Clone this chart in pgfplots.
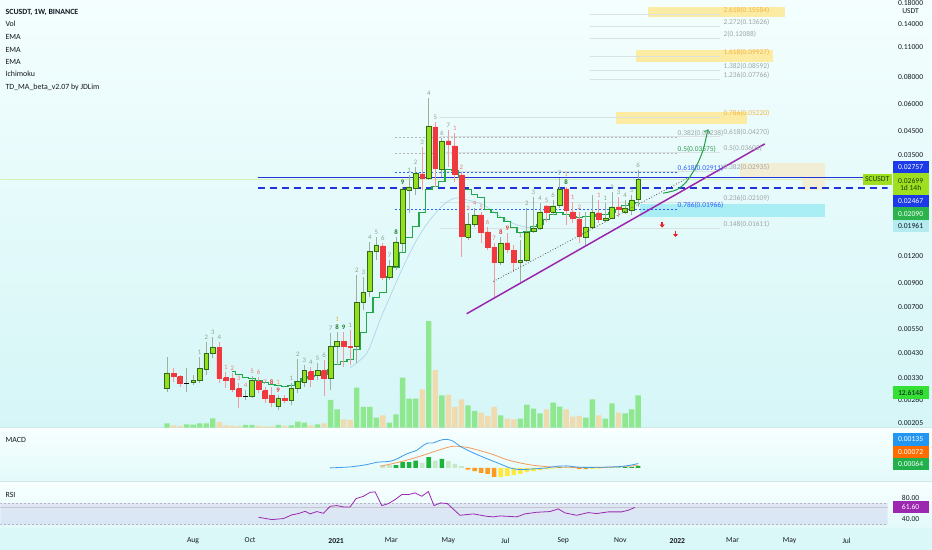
\documentclass[border=0pt]{standalone}
\usepackage{fontspec}
\setmainfont{Carlito}
\usepackage{pgfplots}
\usepackage{pgfplotstable}
\pgfplotsset{compat=1.18}
\usetikzlibrary{arrows.meta}

\definecolor{bgtop}{HTML}{F4FEFE}
\definecolor{bgbot}{HTML}{D5F6F7}
\definecolor{panetop}{HTML}{F8FFFF}
\definecolor{panebot}{HTML}{E3FAFA}
\definecolor{timebg}{HTML}{DAF8F8}
\definecolor{sepc}{HTML}{D2E8E8}
\definecolor{txt}{HTML}{131722}
\definecolor{candleup}{HTML}{93DE1D}
\definecolor{candleedge}{HTML}{2F6B1A}
\definecolor{candledn}{HTML}{F0383F}
\definecolor{wickup}{HTML}{9DB09D}
\definecolor{wickdn}{HTML}{F29A9E}
\definecolor{volup}{HTML}{8FE88F}
\definecolor{voldn}{HTML}{F0DBAE}
\definecolor{stepg}{HTML}{22A84A}
\definecolor{emab}{HTML}{AED6E8}
\definecolor{lvlblue}{HTML}{1F35D9}
\definecolor{trend}{HTML}{9B27AF}
\definecolor{fibgray}{HTML}{A0A6A6}
\definecolor{fibline}{HTML}{D9E1E1}
\definecolor{fibyel}{HTML}{F5B445}
\definecolor{fibgreen}{HTML}{2E9E50}
\definecolor{fibblue}{HTML}{2962FF}
\definecolor{yelbox}{HTML}{FBEBA3}
\definecolor{beigebox}{HTML}{F2EDD5}
\definecolor{cyanbox}{HTML}{A9EEF4}
\definecolor{lastp}{HTML}{CFEFA8}
\definecolor{arrowg}{HTML}{22A046}
\definecolor{arrowr}{HTML}{E8202A}
\definecolor{tdone}{HTML}{8BA58B}
\definecolor{tdred}{HTML}{EF7B7B}
\definecolor{tddkg}{HTML}{1B7F2A}
\definecolor{tddkr}{HTML}{E53935}
\definecolor{tdor}{HTML}{F2A93B}
\definecolor{macdb}{HTML}{3D9BE9}
\definecolor{macdo}{HTML}{F39B5C}
\definecolor{histdk}{HTML}{1DB13E}
\definecolor{histpl}{HTML}{C8E6C8}
\definecolor{histor}{HTML}{FF9A1F}
\definecolor{histye}{HTML}{FFE93D}
\definecolor{rsiv}{HTML}{7E57C2}
\definecolor{rsiline}{HTML}{9C27B0}
\definecolor{rsidash}{HTML}{B5B5C5}
\definecolor{boxblue}{HTML}{1C3AE8}
\definecolor{boxlime}{HTML}{9EE01F}
\definecolor{boxgreen}{HTML}{2CB34B}
\definecolor{boxcyan}{HTML}{B3EBF0}
\definecolor{boxvol}{HTML}{33E033}
\definecolor{boxmb}{HTML}{2196F3}
\definecolor{boxmo}{HTML}{FF6D00}
\definecolor{boxmg}{HTML}{21B04B}
\definecolor{boxrsi}{HTML}{9C27B0}
\definecolor{limetxt}{HTML}{1B3D0A}

\newcommand\lab{\fontsize{7.6}{8}\selectfont}
\newcommand\fibf{\fontsize{7.4}{8}\selectfont}
\newcommand\tdf{\fontsize{6.8}{7}\selectfont}
\newcommand\legf{\fontsize{7.9}{9}\selectfont}

% weekly candles: index, open, high, low, close, direction, volume
\pgfplotstableread{
i O H L C d V
0 0.002937 0.004122 0.002845 0.003443 1 1.69
1 0.003443 0.003669 0.003163 0.003335 -1 0.91
2 0.003335 0.003407 0.003000 0.003097 -1 0.65
3 0.003100 0.003669 0.002845 0.003100 0 1.30
4 0.003130 0.003407 0.003064 0.003197 1 1.17
5 0.003197 0.004122 0.003130 0.003630 1 1.69
6 0.003592 0.004833 0.003407 0.004255 1 1.69
7 0.004255 0.005095 0.004078 0.004535 1 3.65
8 0.004535 0.004833 0.003130 0.003265 -1 2.21
9 0.003300 0.003517 0.002968 0.003197 -1 0.91
10 0.003265 0.003480 0.002845 0.002906 -1 0.78
11 0.002937 0.003130 0.002401 0.002698 -1 0.65
12 0.002698 0.002906 0.002614 0.002698 0 1.04
13 0.002698 0.003371 0.002670 0.003197 1 1.04
14 0.003163 0.003335 0.002815 0.002906 -1 0.65
15 0.002875 0.003000 0.002532 0.002642 -1 0.52
16 0.002727 0.003000 0.002427 0.002532 -1 0.52
17 0.002427 0.002756 0.002351 0.002642 1 1.04
18 0.002642 0.002756 0.002532 0.002586 -1 0.65
19 0.002586 0.003130 0.002479 0.002937 1 0.91
20 0.002937 0.004036 0.002815 0.003163 1 2.34
21 0.003130 0.003787 0.003000 0.003554 1 1.95
22 0.003517 0.003708 0.003000 0.003231 -1 0.91
23 0.003371 0.003869 0.003231 0.003554 1 1.30
24 0.003554 0.003993 0.002727 0.003265 -1 1.69
25 0.003265 0.005316 0.002906 0.004583 1 10.81
26 0.004583 0.005373 0.003787 0.004833 1 7.16
27 0.004833 0.005373 0.003708 0.004583 -1 3.26
28 0.004583 0.005487 0.003787 0.004535 -1 2.99
29 0.004583 0.009826 0.003869 0.007304 1 15.63
30 0.007304 0.009620 0.006782 0.008120 1 8.07
31 0.008207 0.013937 0.007783 0.012537 1 8.07
32 0.012537 0.014697 0.011518 0.013501 1 3.91
33 0.013359 0.013791 0.009319 0.009519 -1 4.82
34 0.009519 0.011518 0.009319 0.010696 1 1.95
35 0.010696 0.014697 0.010361 0.013937 1 5.21
36 0.013791 0.024958 0.012537 0.024435 1 19.53
37 0.024177 0.028342 0.018949 0.024958 1 11.33
38 0.024694 0.030848 0.022931 0.028949 1 11.33
39 0.028644 0.038130 0.024177 0.027455 -1 14.97
40 0.027455 0.064076 0.026880 0.047629 1 41.67
41 0.047127 0.049690 0.024958 0.030523 -1 22.53
42 0.030201 0.041943 0.027748 0.040631 1 12.63
43 0.040631 0.045653 0.030848 0.039361 -1 12.76
44 0.038536 0.044225 0.026315 0.028644 -1 8.07
45 0.028342 0.029257 0.011890 0.014853 -1 11.07
46 0.014697 0.018949 0.014237 0.016866 1 8.72
47 0.016866 0.019981 0.016338 0.018552 1 6.51
48 0.018552 0.019151 0.013791 0.015496 -1 5.86
49 0.015496 0.016338 0.012805 0.013079 -1 4.56
50 0.013079 0.013791 0.007783 0.011158 -1 8.07
51 0.011158 0.014697 0.010925 0.013791 1 4.82
52 0.013791 0.015333 0.012405 0.012941 -1 3.52
53 0.012670 0.013501 0.010143 0.011158 -1 3.26
54 0.011158 0.014237 0.009124 0.011397 1 3.52
55 0.011397 0.019981 0.011277 0.015496 1 8.98
56 0.015661 0.022450 0.015333 0.016166 1 7.42
57 0.016166 0.021068 0.015827 0.019151 1 5.60
58 0.020409 0.020627 0.017227 0.019151 -1 7.16
59 0.019151 0.021748 0.018552 0.020409 1 9.77
60 0.020627 0.027455 0.019981 0.024435 1 8.20
61 0.024435 0.024958 0.016688 0.019562 -1 7.16
62 0.019151 0.021292 0.017045 0.017972 -1 4.30
63 0.017782 0.019151 0.013791 0.014853 -1 4.56
64 0.014697 0.019151 0.013218 0.016338 1 3.91
65 0.016338 0.022931 0.016166 0.019151 1 11.07
66 0.018949 0.021748 0.017045 0.017782 -1 4.82
67 0.017595 0.021068 0.017227 0.017972 1 3.52
68 0.017972 0.023671 0.017782 0.020193 1 9.51
69 0.020193 0.022450 0.018163 0.019770 -1 5.86
70 0.019151 0.021748 0.018750 0.019981 1 5.60
71 0.019562 0.022931 0.018552 0.021748 1 7.16
72 0.021980 0.029883 0.020193 0.026990 1 12.61
}\candles

% green step line (TD_MA)
\pgfplotstableread{
i y
10 0.003517
11 0.003407
12 0.003300
13 0.003265
14 0.003197
15 0.003130
16 0.003064
17 0.003032
18 0.003000
19 0.003032
20 0.003163
21 0.003265
22 0.003335
23 0.003371
24 0.003407
25 0.003592
26 0.003787
27 0.003910
28 0.003993
29 0.004440
30 0.005316
31 0.006570
32 0.007701
33 0.008120
34 0.009620
35 0.010583
36 0.012405
37 0.014542
38 0.016338
39 0.018949
40 0.024177
41 0.024958
42 0.026315
43 0.029883
44 0.029568
45 0.027455
46 0.024177
47 0.022931
48 0.022214
49 0.019562
50 0.018949
51 0.017972
52 0.017227
53 0.016166
54 0.015333
55 0.015496
56 0.016338
57 0.016688
58 0.017595
59 0.018552
60 0.018949
61 0.018552
62 0.018163
63 0.017972
64 0.018163
65 0.018163
66 0.018552
67 0.018552
68 0.018949
69 0.019562
70 0.020409
71 0.020849
72 0.021068
}\steps

% TD sequential counts above the bars: index, high, text, class
\pgfplotstableread{
i y t c
5 0.004122 1 1
6 0.004833 2 1
7 0.005095 3 1
8 0.004833 4 1
9 0.003517 1 2
10 0.003480 2 2
11 0.003130 3 2
12 0.002906 4 2
13 0.003371 5 2
14 0.003335 6 2
15 0.003000 7 2
16 0.003000 8 4
17 0.002756 9 4
19 0.003130 1 1
20 0.004036 2 1
21 0.003787 3 1
22 0.003708 4 1
23 0.003869 5 1
24 0.003993 6 1
25 0.005316 7 1
26 0.005373 8 3
27 0.005373 9 3
28 0.005487 1 1
29 0.009826 2 1
30 0.009620 3 1
31 0.013937 4 1
32 0.014697 5 1
33 0.013791 6 1
34 0.011518 7 1
35 0.014697 8 3
36 0.024958 9 3
37 0.028342 1 1
38 0.030848 2 1
39 0.038130 3 1
40 0.064076 4 1
41 0.049690 5 1
42 0.041943 6 1
43 0.045653 7 1
44 0.044225 1 2
45 0.029257 2 2
46 0.018949 3 2
47 0.019981 4 2
48 0.019151 5 2
49 0.016338 6 2
50 0.013791 7 2
51 0.014697 8 4
52 0.015333 9 4
54 0.014237 1 1
55 0.019981 2 1
56 0.022450 3 1
57 0.021068 4 1
58 0.020627 5 1
59 0.021748 6 1
60 0.027455 7 1
61 0.024958 8 3
62 0.021292 1 2
63 0.019151 2 2
66 0.021748 1 2
67 0.021068 1 1
68 0.023671 2 1
69 0.022450 3 1
70 0.021748 4 1
71 0.022931 5 1
72 0.029883 6 1
17 0.002756 1 5
26 0.005373 1 5
61 0.024958 1 5
}\tdtab

\pgfplotsset{
  pane/.style={anchor=south west, width=888pt, scale only axis,
    xmin=-51.3, xmax=84.27},
  tdlab/.style={draw=none, mark=none, nodes near coords, point meta=explicit symbolic},
}
\tikzset{
  fiblab/.style={anchor=south west, inner sep=0.6pt, font=\fibf},
  tag/.style={font=\lab, minimum width=36pt, minimum height=12.4pt, inner sep=0pt},
}

\begin{document}
\begin{tikzpicture}[x=1pt,y=1pt]
\fill[timebg] (0,0) rectangle (932,22);
\shade[top color=bgtop,bottom color=bgbot] (0,122) rectangle (932,550);
\shade[top color=panetop,bottom color=panebot] (0,68) rectangle (932,122);
\shade[top color=panetop,bottom color=panebot] (0,22) rectangle (932,68);
\draw[sepc,line width=0.8pt] (0,122)--(932,122) (0,68)--(932,68);

% volume
\begin{axis}[pane, at={(0pt,122pt)}, height=428pt, ymin=0, ymax=167.2, hide axis]
\addplot[ybar, bar width=5.4pt, bar shift=0pt, fill=volup, draw=none,
  restrict expr to domain={\thisrow{d}}{-0.5:1.5}]
  table[x expr=\thisrow{i}-25.85, y=V] {\candles};
\addplot[ybar, bar width=5.4pt, bar shift=0pt, fill=voldn, draw=none,
  restrict expr to domain={\thisrow{d}}{-1.5:-0.5}]
  table[x expr=\thisrow{i}-25.85, y=V] {\candles};
\end{axis}

% price
\begin{axis}[pane, at={(0pt,122pt)}, height=428pt,
  ymode=log, ymin=0.001943, ymax=0.1809,
  axis line style={draw=none}, tick style={draw=none}, major tick length=0pt,
  xtick=\empty,
  ytick={0.00205,0.0026,0.0033,0.0043,0.0055,0.007,0.009,0.012,0.035,0.045,0.06,0.08,0.11,0.14},
  yticklabels={0.00205,0.00260,0.00330,0.00430,0.00550,0.00700,0.00900,0.01200,0.03500,0.04500,0.06000,0.08000,0.11000,0.14000},
  yticklabel pos=right,
  yticklabel style={font=\lab, text=txt, anchor=center, xshift=23pt}]

% last price line (faint)
\addplot[draw=lastp, line width=0.4pt, draw opacity=0.8] coordinates {(-51.3,0.02699) (84.27,0.02699)};

% fib zones
\addplot[fill=yelbox, draw=none] coordinates {(47.63,0.1511) (68.55,0.1511) (68.55,0.1680) (47.63,0.1680)};
\addplot[fill=yelbox, draw=none] coordinates {(45.80,0.09383) (66.72,0.09383) (66.72,0.10656) (45.80,0.10656)};
\addplot[fill=yelbox, draw=none] coordinates {(42.75,0.04865) (62.75,0.04865) (62.75,0.05524) (42.75,0.05524)};
\addplot[fill=beigebox, draw=none] coordinates {(61.68,0.02737) (74.66,0.02737) (74.66,0.03228) (61.68,0.03228)};
\addplot[fill=beigebox, draw=none] coordinates {(71.15,0.02418) (74.66,0.02418) (74.66,0.02737) (71.15,0.02737)};
\addplot[fill=cyanbox, draw=none] coordinates {(46.41,0.01822) (74.66,0.01822) (74.66,0.02078) (46.41,0.02078)};

% fib levels
\foreach \v in {0.15584,0.13626,0.12088,0.09927,0.08592,0.07766}{
  \edef\tmp{\noexpand\addplot[fibline, line width=0.6pt] coordinates {(38.78,\v) (58.63,\v)};}\tmp}
\foreach \v in {0.05220,0.04270,0.03602,0.02935,0.02109,0.01611}{
  \edef\tmp{\noexpand\addplot[fibline, line width=0.6pt] coordinates {(15.88,\v) (58.63,\v)};}\tmp}
\addplot[fibgray!80, dash pattern=on 2pt off 2pt, line width=0.5pt] coordinates {(9.01,0.04238) (52.06,0.04238)};
\addplot[fibgray!80, dash pattern=on 2pt off 2pt, line width=0.5pt] coordinates {(9.01,0.03575) (52.06,0.03575)};
\addplot[fibblue, dash pattern=on 2pt off 2pt, line width=0.5pt] coordinates {(9.01,0.02911) (52.06,0.02911)};
\addplot[fibblue, dash pattern=on 2pt off 2pt, line width=0.5pt] coordinates {(9.01,0.01966) (52.06,0.01966)};

% key levels
\addplot[lvlblue, line width=1.3pt] coordinates {(-11.91,0.02757) (84.27,0.02757)};
\addplot[lvlblue, line width=1.3pt, dash pattern=on 7pt off 5pt] coordinates {(-11.91,0.02467) (84.27,0.02467)};

% indicators behind the candles
\addplot[emab, line width=0.7pt, smooth] coordinates {
  (2.14,0.00367) (4.69,0.004286) (6.72,0.0061) (8.24,0.007808) (10.27,0.01073)
  (12.32,0.014237) (14.35,0.017595) (16.38,0.020627) (18.17,0.02214) (19.95,0.021748)
  (22.49,0.020627) (25.04,0.018222) (27.59,0.016688) (31.15,0.015827)};
\addplot[stepg, line width=1.3pt, const plot mark mid] table[x expr=\thisrow{i}-25.85, y=y] {\steps};

% candles
\pgfplotsforeachungrouped \r in {0,...,72}{%
  \pgfplotstablegetelem{\r}{O}\of\candles\let\cO=\pgfplotsretval
  \pgfplotstablegetelem{\r}{H}\of\candles\let\cH=\pgfplotsretval
  \pgfplotstablegetelem{\r}{L}\of\candles\let\cL=\pgfplotsretval
  \pgfplotstablegetelem{\r}{C}\of\candles\let\cC=\pgfplotsretval
  \pgfplotstablegetelem{\r}{d}\of\candles\let\cD=\pgfplotsretval
  \pgfmathsetmacro\xc{\r-25.85}%
  \pgfmathsetmacro\xa{\r-26.21}%
  \pgfmathsetmacro\xb{\r-25.49}%
  \ifnum\cD>0 \def\wk{wickup}\def\ed{candleedge}\def\fc{candleup}\fi
  \ifnum\cD<0 \def\wk{wickdn}\def\ed{candledn}\def\fc{candledn}\fi
  \ifnum\cD=0 \def\wk{wickup}\def\ed{black}\def\fc{black}\fi
  \edef\next{%
    \noexpand\addplot[draw=\wk, line width=0.9pt] coordinates {(\xc,\cL) (\xc,\cH)};%
    \noexpand\addplot[draw=\ed, fill=\fc, line width=0.55pt] coordinates {(\xa,\cO) (\xb,\cO) (\xb,\cC) (\xa,\cC) (\xa,\cO)};%
  }\next
}

% trend lines and arrows
\addplot[trend, line width=1.5pt] coordinates {(19.95,0.0065) (65.5,0.039361)};
\addplot[black!70, line width=0.8pt, dotted] coordinates {(24.02,0.009154) (54.05,0.02775)};
\addplot[arrowg, line width=1pt, smooth, -{Straight Barb[length=3pt,width=6pt]}] coordinates {
  (49.97,0.02334) (52.01,0.024177) (53.54,0.0264) (55.07,0.0312) (56.08,0.036937) (56.69,0.04407) (56.84,0.04599)};
\addplot[arrowr, line width=1.6pt, -{Triangle[length=3pt,width=5pt]}] coordinates {(49.82,0.0172) (49.82,0.0162)};
\addplot[arrowr, line width=1.6pt, -{Triangle[length=3pt,width=5pt]}] coordinates {(51.86,0.0156) (51.86,0.01466)};

% TD counts
\addplot[tdlab, nodes near coords style={font=\tdf, text=tdone, anchor=south, inner sep=1pt, yshift=1pt},
  restrict expr to domain={\thisrow{c}}{0.5:1.5}] table[x expr=\thisrow{i}-25.85, y=y, meta=t] {\tdtab};
\addplot[tdlab, nodes near coords style={font=\tdf, text=tdred, anchor=south, inner sep=1pt, yshift=1pt},
  restrict expr to domain={\thisrow{c}}{1.5:2.5}] table[x expr=\thisrow{i}-25.85, y=y, meta=t] {\tdtab};
\addplot[tdlab, nodes near coords style={font=\tdf\bfseries, text=tddkg, anchor=south, inner sep=1pt, yshift=1pt},
  restrict expr to domain={\thisrow{c}}{2.5:3.5}] table[x expr=\thisrow{i}-25.85, y=y, meta=t] {\tdtab};
\addplot[tdlab, nodes near coords style={font=\tdf\bfseries, text=tddkr, anchor=south, inner sep=1pt, yshift=1pt},
  restrict expr to domain={\thisrow{c}}{3.5:4.5}] table[x expr=\thisrow{i}-25.85, y=y, meta=t] {\tdtab};
\addplot[tdlab, nodes near coords style={font=\tdf, text=tdor, anchor=south, inner sep=1pt, yshift=9pt},
  restrict expr to domain={\thisrow{c}}{4.5:5.5}] table[x expr=\thisrow{i}-25.85, y=y, meta=t] {\tdtab};

% fib labels
\node[fiblab, text=fibyel] at (axis cs:59.08,0.15584) {2.618(0.15584)};
\node[fiblab, text=fibgray] at (axis cs:59.08,0.13626) {2.272(0.13626)};
\node[fiblab, text=fibgray] at (axis cs:59.08,0.12088) {2(0.12088)};
\node[fiblab, text=fibyel] at (axis cs:59.08,0.09927) {1.618(0.09927)};
\node[fiblab, text=fibgray] at (axis cs:59.08,0.08592) {1.382(0.08592)};
\node[fiblab, text=fibgray] at (axis cs:59.08,0.07766) {1.236(0.07766)};
\node[fiblab, text=fibyel] at (axis cs:59.08,0.05220) {0.786(0.05220)};
\node[fiblab, text=fibgray] at (axis cs:52.06,0.04238) {0.382(0.04238)};
\node[fiblab, text=fibgray] at (axis cs:59.08,0.04270) {0.618(0.04270)};
\node[fiblab, text=fibgreen] at (axis cs:52.06,0.03575) {0.5(0.03575)};
\node[fiblab, text=fibgray] at (axis cs:59.08,0.03602) {0.5(0.03602)};
\node[fiblab, text=fibblue] at (axis cs:52.06,0.02911) {0.618(0.02911)};
\node[fiblab, text=fibgray] at (axis cs:59.08,0.02935) {0.382(0.02935)};
\node[fiblab, text=fibgray] at (axis cs:59.08,0.02109) {0.236(0.02109)};
\node[fiblab, text=fibblue] at (axis cs:52.06,0.01966) {0.786(0.01966)};
\node[fiblab, text=fibgray] at (axis cs:59.08,0.01611) {0.148(0.01611)};
\end{axis}

% MACD
\begin{axis}[pane, at={(0pt,68pt)}, height=54pt, ymin=-0.00425, ymax=0.01249, hide axis]
\addplot[ybar, bar width=4.6pt, bar shift=0pt, fill=histdk, draw=none] coordinates {
  (9.15,0.00084) (10.15,0.00177) (11.15,0.00177) (12.15,0.00226) (14.15,0.00332) (16.15,0.00279)
  (34.15,0.00031) (42.15,0.0001) (43.15,0.0001) (44.15,0.00022) (45.15,0.00031) (46.15,0.00064)};
\addplot[ybar, bar width=4.6pt, bar shift=0pt, fill=histpl, draw=none] coordinates {
  (7.15,0.00084) (8.15,0.00084) (13.15,0.00155) (15.15,0.00226) (17.15,0.00208) (18.15,0.00124)
  (19.15,0.00053) (35.15,0.00022) (36.15,0.0001)};
\addplot[ybar, bar width=4.6pt, bar shift=0pt, fill=histor, draw=none] coordinates {
  (20.15,-0.00053) (21.15,-0.00102) (22.15,-0.00155) (23.15,-0.00186) (24.15,-0.00279)
  (37.15,-0.00031) (38.15,-0.0004)};
\addplot[ybar, bar width=4.6pt, bar shift=0pt, fill=histye, draw=none] coordinates {
  (25.15,-0.00288) (26.15,-0.00257) (27.15,-0.00226) (28.15,-0.00186) (29.15,-0.00133)
  (30.15,-0.00102) (31.15,-0.00071) (32.15,-0.0004) (33.15,-0.00022) (39.15,-0.00031)
  (40.15,-0.00022) (41.15,-0.0001)};
\addplot[macdo, line width=0.8pt, smooth] coordinates {
  (6.72,0.0005) (9.77,0.00186) (12.82,0.0036) (15.88,0.00567) (17.91,0.0067) (19.95,0.00639)
  (21.98,0.00536) (24.02,0.00412) (26.07,0.00257) (28.09,0.00155) (30.12,0.00081) (32.67,0.00031)
  (35.22,0.00019) (38.27,0.0001) (41.33,0.00019) (46.15,0.00072)};
\addplot[macdb, line width=0.8pt, smooth] coordinates {
  (-0.92,0) (2.14,0.00031) (4.69,0.00102) (6.21,0.00174) (8.24,0.00205) (9.27,0.00279)
  (10.79,0.00434) (12.32,0.00546) (13.33,0.00701) (14.09,0.00775) (14.85,0.00775) (15.88,0.00856)
  (16.9,0.00887) (17.91,0.00825) (18.93,0.0067) (20.96,0.00465) (23.0,0.00288) (25.04,0.00124)
  (26.56,0) (28.09,-0.00053) (30.12,-0.00031) (32.17,0) (33.69,0.0005) (35.22,0.00062)
  (37.25,0.00019) (40.3,0.00019) (43.36,0.0004) (44.89,0.00081) (46.15,0.00135)};
\end{axis}

% RSI
\begin{axis}[pane, at={(0pt,22pt)}, height=46pt, ymin=24.5, ymax=109.3,
  axis line style={draw=none}, tick style={draw=none}, major tick length=0pt,
  ytick={40,80}, yticklabels={40.00,80.00}, yticklabel pos=right,
  yticklabel style={font=\lab, text=txt, anchor=center, xshift=23pt},
  xtick={-21.86,-13.14,0,8.43,17.14,25.86,34.71,43.43,52.14,60.57,69.29,78.0},
  xticklabels={Aug,Oct,\textbf{2021},Mar,May,Jul,Sep,Nov,\textbf{2022},Mar,May,Jul},
  xticklabel style={font=\lab, text=txt, anchor=center, yshift=-13pt}]
\addplot[fill=rsiv, fill opacity=0.12, draw=none] coordinates {(-51.3,30) (84.27,30) (84.27,70) (-51.3,70)};
\addplot[rsidash, line width=0.6pt, dash pattern=on 2pt off 2pt] coordinates {(-51.3,70) (84.27,70)};
\addplot[rsidash, line width=0.6pt, dash pattern=on 2pt off 2pt] coordinates {(-51.3,30) (84.27,30)};
\addplot[rsidash!80, line width=0.5pt] coordinates {(-51.3,61.6) (84.27,61.6)};
\addplot[rsiline, line width=0.8pt] coordinates {
  (-11.86,43.5) (-9.82,39.2) (-8.05,41.1) (-6.76,47.9) (-5.76,50.3) (-4.73,54.5) (-3.97,49.7)
  (-2.95,54.0) (-1.94,50.8) (-0.92,63.7) (0.11,65.0) (1.11,62.6) (2.14,62.6) (3.05,77.9)
  (4.17,82.2) (5.19,89.5) (5.95,90.3) (6.98,65.0) (7.98,68.7) (9.01,76.1) (10.03,85.3)
  (11.04,85.3) (12.06,88.4) (13.08,82.2) (14.09,90.8) (14.96,65.0) (15.98,70.0) (16.99,68.7)
  (18.93,47.1) (20.96,49.7) (23.0,45.3) (24.02,44.2) (25.04,46.0) (27.59,44.2) (28.85,49.7)
  (30.64,52.7) (32.67,54.0) (33.94,58.9) (34.96,51.6) (36.75,47.1) (38.52,52.1) (39.80,50.3)
  (41.57,53.4) (43.62,53.4) (44.63,56.4) (45.65,61.6)};
\end{axis}

% header legend
\node[anchor=west, font=\legf\bfseries, text=txt, inner sep=0pt] at (5,537.3) {SCUSDT, 1W, BINANCE};
\foreach \t/\y in {Vol/525.7, EMA/513, EMA/500.3, EMA/488, Ichimoku/475.7, TD\_MA\_beta\_v2.07 by JDLim/462.7}
  \node[anchor=west, font=\legf, text=txt, inner sep=0pt] at (5,\y) {\t};
\node[anchor=west, font=\legf, text=txt, inner sep=0pt] at (5,110) {MACD};
\node[anchor=west, font=\legf, text=txt, inner sep=0pt] at (5,55) {RSI};
\node[font=\lab, text=txt, anchor=north, inner sep=0pt] at (911,550) {0.18000};
\node[font=\lab, text=txt] at (911,538.5) {USDT};

% price scale tags
\node[tag, fill=boxblue, text=white] at (911,382.5) {0.02757};
\node[tag, fill=boxlime, text=limetxt, align=center, minimum height=22.5pt] at (911,365.2) {0.02699\\[-1.2pt]1d 14h};
\node[tag, fill=boxblue, text=white] at (911,348.5) {0.02467};
\node[tag, fill=boxgreen, text=white] at (911,336.2) {0.02090};
\node[tag, fill=boxcyan, text=txt] at (911,323.5) {0.01961};
\node[tag, fill=boxlime, text=limetxt, minimum width=29pt, minimum height=11.5pt] at (877.5,370.5) {SCUSDT};
\node[tag, fill=boxvol, text=txt] at (911,157) {12.6148};
\node[tag, fill=boxmb, text=white] at (911,110.3) {0.00135};
\node[tag, fill=boxmo, text=white] at (911,97.7) {0.00072};
\node[tag, fill=boxmg, text=white] at (911,85.5) {0.00064};
\node[tag, fill=boxrsi, text=white] at (911,42.5) {61.60};
\end{tikzpicture}
\end{document}
